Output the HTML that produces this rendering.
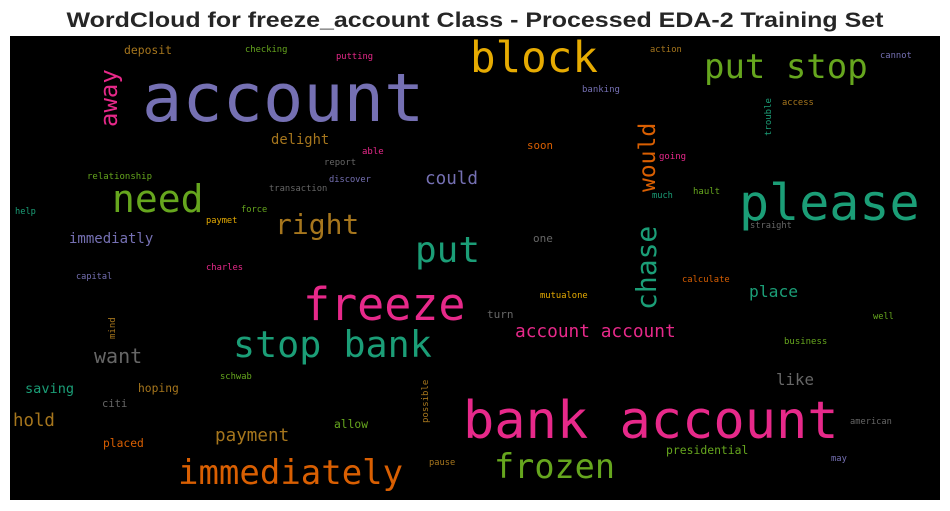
<!DOCTYPE html>
<html><head><meta charset="utf-8"><style>
html,body{margin:0;padding:0;background:#fff;}
svg{display:block}
</style></head><body>
<svg id="chart" width="950" height="511" viewBox="0 0 950 511" xmlns="http://www.w3.org/2000/svg">
<text x="475" y="27" text-anchor="middle" font-family="Liberation Sans, Arial, sans-serif" font-weight="bold" font-size="21" fill="#262626" textLength="817" lengthAdjust="spacingAndGlyphs">WordCloud for freeze_account Class - Processed EDA-2 Training Set</text>
<rect x="10" y="36" width="930" height="464" fill="#000"/>
<g id="words"></g>
</svg>
<script>
const words = ["account","block","put stop","please","freeze","stop bank","bank account","immediately","frozen","need","right","put","could","delight","deposit","checking","putting","away","relationship","report","able","discover","transaction","help","force","paymet","immediatly","charles","capital","mind","want","saving","hoping","schwab","citi","hold","payment","allow","placed","possible","pause","action","cannot","banking","trouble","access","soon","would","going","much","hault","straight","one","chase","calculate","mutualone","place","turn","well","account account","business","like","american","presidential","may"];
const fontSizes = [67,42.5,34,50,45,36.7,52,34,33.5,38,28,36,17.6,13.8,11.4,8.8,8.8,24,9,8.9,9,8.7,8.8,8.7,8.7,8.7,14,8.8,8.6,9,20,13.6,11.3,8.8,10.5,17.4,17.6,11.3,11.3,9,8.7,8.8,8.8,9,9,8.8,10.8,23,9,8.7,9,8.7,11,28,8.8,8.8,16.3,11,8.7,17.8,9,15.8,8.7,11.4,8.8];
const colors = ["#7570b3","#e6ab02","#66a61e","#1b9e77","#e7298a","#1b9e77","#e7298a","#d95f02","#66a61e","#66a61e","#a6761d","#1b9e77","#7570b3","#a6761d","#a6761d","#66a61e","#e7298a","#e7298a","#66a61e","#666666","#e7298a","#7570b3","#666666","#1b9e77","#66a61e","#e6ab02","#7570b3","#e7298a","#7570b3","#a6761d","#666666","#1b9e77","#a6761d","#66a61e","#666666","#a6761d","#a6761d","#66a61e","#d95f02","#a6761d","#a6761d","#a6761d","#7570b3","#7570b3","#1b9e77","#a6761d","#d95f02","#d95f02","#e7298a","#1b9e77","#66a61e","#666666","#666666","#1b9e77","#d95f02","#e6ab02","#1b9e77","#666666","#66a61e","#e7298a","#66a61e","#666666","#666666","#66a61e","#7570b3"];
const layoutX = [142,470,704,739,303,233,463,178,494,112,275,415,425,271,124,245,336,117,87,324,362,329,269,15,241,206,69,206,76,115,94,25,138,220,102,13,215,334,103,428,429,650,880,582,771,782,527,655,659,652,693,750,533,656,682,540,749,487,873,515,784,776,850,666,831];
const layoutY = [121,72,78,220,320,357,438,484,478,212,234,262,184,144,54,52,59,127,179,165,154,182,191,214,212,223,243,270,279,339,363,393,392,379,407,426,441,428,447,423,465,52,58,92,136,105,149,192,159,198,194,228,242,310,282,298,297,318,319,337,344,385,424,454,461];
const vertical = ["away","mind","possible","trouble","would","chase"];
const g = document.getElementById('words');
const NS = "http://www.w3.org/2000/svg";
for (let i = 0; i < words.length; i++) {
  const t = document.createElementNS(NS, 'text');
  
  
  const w = words[i];
  const fs = fontSizes[i];
  t.setAttribute('font-family', 'DejaVu Sans Mono, Liberation Mono, monospace');
  t.setAttribute('font-size', fs);
  t.setAttribute('fill', colors[i]);
  t.setAttribute('textLength', (w.length * fs * 0.602).toFixed(1));
  t.setAttribute('lengthAdjust', 'spacingAndGlyphs');
  t.textContent = w;
  if (vertical.includes(w)) {
    t.setAttribute('x', 0); t.setAttribute('y', 0);
    t.setAttribute('transform', 'translate(' + layoutX[i] + ',' + layoutY[i] + ') rotate(-90)');
  } else {
    t.setAttribute('x', layoutX[i]); t.setAttribute('y', layoutY[i]);
  }
  g.appendChild(t);
}
</script>
</body></html>
